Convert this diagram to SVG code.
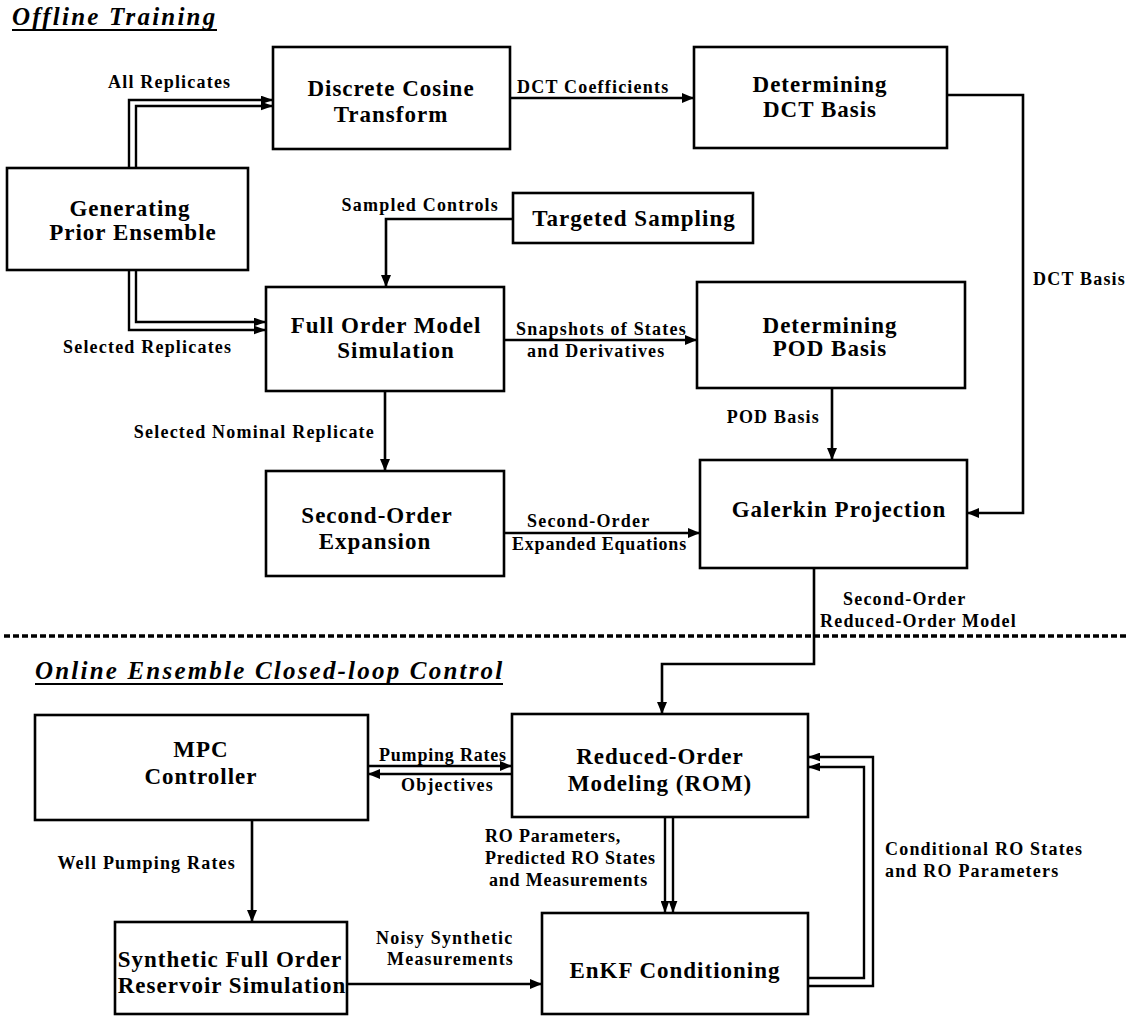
<svg xmlns="http://www.w3.org/2000/svg" width="1128" height="1016" viewBox="0 0 1128 1016">
  <defs>
    <marker id="ah" viewBox="0 0 12 10" refX="12" refY="5" markerWidth="13" markerHeight="10" markerUnits="userSpaceOnUse" orient="auto">
      <path d="M0,0 L12,5 L0,10 z" fill="#000"/>
    </marker>
    <marker id="ahs" viewBox="0 0 11 8" refX="11" refY="4" markerWidth="12" markerHeight="9" markerUnits="userSpaceOnUse" orient="auto">
      <path d="M0,0 L11,4 L0,8 z" fill="#000"/>
    </marker>
  </defs>
  <style>
    .box { fill: #fff; stroke: #000; stroke-width: 2.6; }
    .nl { font-family: "Liberation Serif", "Times New Roman", serif; font-weight: bold; font-size: 23px; letter-spacing: 1px; text-anchor: middle; fill: #000; }
    .el { font-family: "Liberation Serif", "Times New Roman", serif; font-weight: bold; font-size: 18px; letter-spacing: 1.2px; fill: #000; }
    .tight { letter-spacing: 0.8px; }
    .ttl { font-family: "Liberation Serif", "Times New Roman", serif; font-weight: bold; font-style: italic; font-size: 25px; letter-spacing: 2.2px; fill: #000; }
    .c { fill: none; stroke: #000; stroke-width: 2.6; marker-end: url(#ah); }
    .d { fill: none; stroke: #000; stroke-width: 2.4; marker-end: url(#ahs); }
    .u { stroke: #000; stroke-width: 2; }
  </style>
  <rect width="1128" height="1016" fill="#fff"/>

  <!-- section titles and divider -->
  <text class="ttl" x="12" y="25">Offline Training</text>
  <line class="u" x1="12" y1="30" x2="217" y2="30"/>
  <line x1="4" y1="636" x2="1128" y2="636" stroke="#000" stroke-width="3.6" stroke-dasharray="6 3"/>
  <text class="ttl" x="35" y="679">Online Ensemble Closed-loop Control</text>
  <line class="u" x1="35" y1="684" x2="503" y2="684"/>

  <!-- connectors -->
  <g id="connectors">
    <path class="d" d="M129,168 V100 H273"/>
    <path class="d" d="M136,168 V106 H273"/>
    <path class="d" d="M129,270 V330 H266"/>
    <path class="d" d="M136,270 V322 H266"/>
    <path class="c" d="M510,98 H694"/>
    <path class="c" d="M947,95 H1023 V513 H967"/>
    <path class="c" d="M513,219 H386 V287"/>
    <path class="c" d="M504,340 H697"/>
    <path class="c" d="M385,391 V471"/>
    <path class="c" d="M832,388 V460"/>
    <path class="c" d="M504,533 H700"/>
    <path class="c" d="M814,568 V664 H662 V714"/>
    <path class="c" d="M368,766 H512"/>
    <path class="c" d="M512,774 H368"/>
    <path class="c" d="M252,820 V922"/>
    <path class="d" d="M665,817 V913"/>
    <path class="d" d="M673,817 V913"/>
    <path class="c" d="M347,984 H542"/>
    <path class="d" d="M808,986 H873 V757 H808"/>
    <path class="d" d="M808,978 H864 V767 H808"/>

    <text class="el" x="108" y="88">All Replicates</text>
    <text class="el" x="517" y="93">DCT Coefficients</text>
    <text class="el" x="1033" y="285">DCT Basis</text>
    <text class="el" x="499" y="211" text-anchor="end">Sampled Controls</text>
    <text class="el" x="63" y="353">Selected Replicates</text>
    <text class="el" x="516" y="335">Snapshots of States</text>
    <text class="el" x="527" y="357">and Derivatives</text>
    <text class="el" x="375" y="438" text-anchor="end">Selected Nominal Replicate</text>
    <text class="el" x="820" y="423" text-anchor="end">POD Basis</text>
    <text class="el" x="527" y="527">Second-Order</text>
    <text class="el tight" x="512" y="550">Expanded Equations</text>
    <text class="el" x="843" y="605">Second-Order</text>
    <text class="el" x="820" y="627">Reduced-Order Model</text>
    <text class="el tight" x="379" y="761">Pumping Rates</text>
    <text class="el" x="401" y="791">Objectives</text>
    <text class="el" x="236" y="869" text-anchor="end">Well Pumping Rates</text>
    <text class="el tight" x="485" y="842">RO Parameters,</text>
    <text class="el tight" x="485" y="864">Predicted RO States</text>
    <text class="el tight" x="489" y="886">and Measurements</text>
    <text class="el" x="885" y="855">Conditional RO States</text>
    <text class="el" x="885" y="877">and RO Parameters</text>
    <text class="el" x="376" y="944">Noisy Synthetic</text>
    <text class="el" x="387" y="965">Measurements</text>
  </g>

  <!-- offline nodes -->
  <g id="dct">
    <rect class="box" x="273" y="47" width="237" height="102"/>
    <text class="nl" x="391" y="96">Discrete Cosine</text>
    <text class="nl" x="391" y="122">Transform</text>
  </g>
  <g id="dct-basis">
    <rect class="box" x="694" y="47" width="253" height="101"/>
    <text class="nl" x="820" y="92">Determining</text>
    <text class="nl" x="820" y="117">DCT Basis</text>
  </g>
  <g id="prior">
    <rect class="box" x="7" y="168" width="241" height="102"/>
    <text class="nl" x="130" y="216" letter-spacing="2.5">Generating</text>
    <text class="nl" x="133" y="240">Prior Ensemble</text>
  </g>
  <g id="sampling">
    <rect class="box" x="513" y="193" width="240" height="50"/>
    <text class="nl" x="634" y="226">Targeted Sampling</text>
  </g>
  <g id="fom">
    <rect class="box" x="266" y="287" width="238" height="104"/>
    <text class="nl" x="386" y="333">Full Order Model</text>
    <text class="nl" x="396" y="358">Simulation</text>
  </g>
  <g id="pod">
    <rect class="box" x="697" y="282" width="268" height="106"/>
    <text class="nl" x="830" y="333">Determining</text>
    <text class="nl" x="830" y="356">POD Basis</text>
  </g>
  <g id="expansion">
    <rect class="box" x="266" y="471" width="238" height="105"/>
    <text class="nl" x="377" y="523">Second-Order</text>
    <text class="nl" x="375" y="549">Expansion</text>
  </g>
  <g id="galerkin">
    <rect class="box" x="700" y="460" width="267" height="108"/>
    <text class="nl" x="839" y="517">Galerkin Projection</text>
  </g>

  <!-- online nodes -->
  <g id="mpc">
    <rect class="box" x="35" y="715" width="333" height="105"/>
    <text class="nl" x="201" y="757">MPC</text>
    <text class="nl" x="201" y="784">Controller</text>
  </g>
  <g id="rom">
    <rect class="box" x="512" y="714" width="296" height="103"/>
    <text class="nl" x="660" y="764">Reduced-Order</text>
    <text class="nl" x="660" y="791">Modeling (ROM)</text>
  </g>
  <g id="synthetic">
    <rect class="box" x="115" y="922" width="232" height="92"/>
    <text class="nl" x="230" y="967" letter-spacing="0.2">Synthetic Full Order</text>
    <text class="nl" x="232" y="993" letter-spacing="0.2">Reservoir Simulation</text>
  </g>
  <g id="enkf">
    <rect class="box" x="542" y="913" width="266" height="101"/>
    <text class="nl" x="675" y="978">EnKF Conditioning</text>
  </g>
</svg>
